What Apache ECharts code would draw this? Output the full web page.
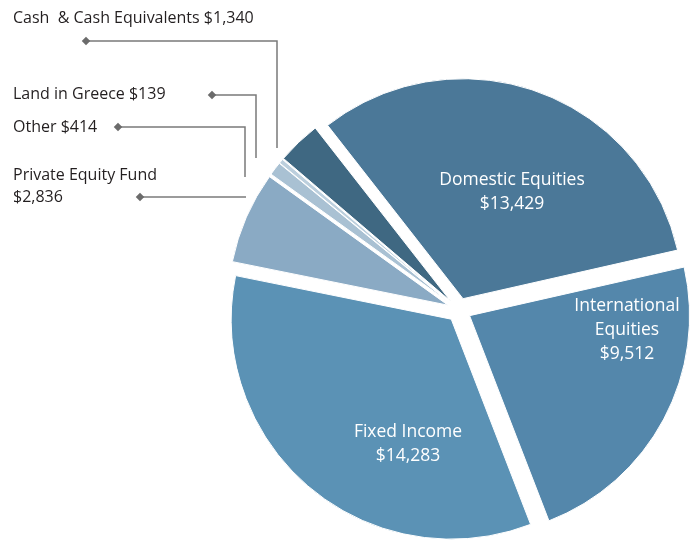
<!DOCTYPE html>
<html>
<head>
<meta charset="utf-8">
<script src="https://cdn.jsdelivr.net/npm/echarts@6/dist/echarts.min.js"></script>
<style>
  html, body { margin: 0; padding: 0; background: #fff; }
  #chart { width: 692px; height: 540px; }
</style>
</head>
<body>
<div id="chart"></div>
<script>
// slice data, clockwise from the top-left split
const names = ['Domestic Equities', 'International Equities', 'Fixed Income', 'Private Equity Fund', 'Other', 'Land in Greece', 'Cash & Cash Equivalents'];
const values = [13429, 9512, 14283, 2836, 414, 139, 1340];
const labelTexts = [
  'Domestic Equities\n$13,429',
  'International\nEquities\n$9,512',
  'Fixed Income\n$14,283',
  'Private Equity Fund\n$2,836',
  'Other $414',
  'Land in Greece $139',
  'Cash  & Cash Equivalents $1,340'
];
const colors = ['#4b7898', '#5487ab', '#5b92b5', '#8aaac4', '#a9c1d3', '#bccfdd', '#3f6882'];

// label placement (text anchor, leader line: diamond -> corner -> end)
const labelPos = [
  {x: 512, y: 192, align: 'center'},
  {x: 627, y: 330, align: 'center'},
  {x: 408, y: 444, align: 'center'},
  {x: 13, y: 186, align: 'left', line: [[140, 197], [245, 197], [246, 197]]},
  {x: 13, y: 127, align: 'left', line: [[118, 127], [245, 127], [245, 177]]},
  {x: 13, y: 94, align: 'left', line: [[212, 95], [256, 95], [256, 158]]},
  {x: 13, y: 18, align: 'left', line: [[86, 41], [277, 41], [277, 148]]}
];

const font = 'Open Sans';
const chart = echarts.init(document.getElementById('chart'));

const pieBase = {
  type: 'pie',
  center: [459, 310],
  radius: 220,
  startAngle: 128,
  clockwise: true,
  avoidLabelOverlap: false,
  emphasis: {disabled: true}
};

const option = {
  animation: false,
  graphic: labelPos.filter(p => p.line).map(p => ({
    type: 'rect',
    x: p.line[0][0],
    y: p.line[0][1],
    rotation: Math.PI / 4,
    shape: {x: -3, y: -3, width: 6, height: 6},
    style: {fill: '#6b6b6b'},
    z: 10
  })),
  series: [
    // exploded slices
    Object.assign({}, pieBase, {
      selectedMode: 'multiple',
      selectedOffset: 12,
      itemStyle: {borderColor: '#fff', borderWidth: 1},
      label: {show: false},
      labelLine: {show: false},
      data: names.map((n, i) => ({
        name: n,
        value: values[i],
        selected: true,
        itemStyle: {color: colors[i]}
      }))
    }),
    // labels only
    Object.assign({}, pieBase, {
      silent: true,
      selectedMode: false,
      itemStyle: {color: 'rgba(0,0,0,0)', borderWidth: 0},
      z: 5,
      data: names.map((n, i) => ({
        name: n,
        value: values[i],
        label: i < 3 ? {
          show: true,
          position: 'inside',
          color: '#fff',
          fontFamily: font,
          fontSize: 17.5,
          lineHeight: 24,
          formatter: labelTexts[i]
        } : {
          show: true,
          position: 'outside',
          color: '#231f20',
          fontFamily: font,
          fontSize: 16,
          lineHeight: 22,
          formatter: labelTexts[i]
        },
        labelLine: {
          show: i >= 3,
          lineStyle: {color: '#7a7a7a', width: 1.5}
        }
      })),
      labelLayout: function (params) {
        const p = labelPos[params.dataIndex];
        const out = {x: p.x, y: p.y, align: p.align, verticalAlign: 'middle'};
        if (p.line) out.labelLinePoints = p.line;
        return out;
      }
    })
  ]
};
chart.setOption(option);
</script>
</body>
</html>
